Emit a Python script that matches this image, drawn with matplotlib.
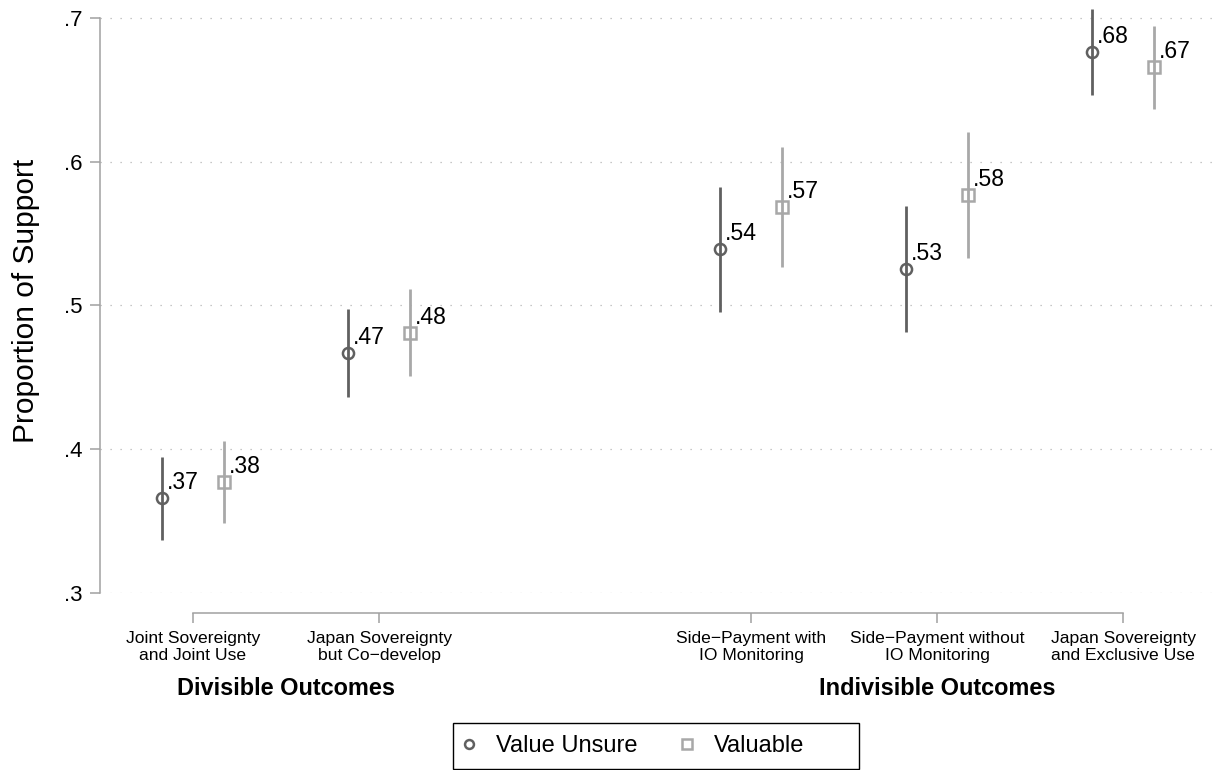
import matplotlib
matplotlib.use("Agg")
import matplotlib.pyplot as plt
from matplotlib.transforms import blended_transform_factory
from matplotlib.patches import Rectangle

plt.rcParams["font.family"] = ["Liberation Sans", "DejaVu Sans"]

# Outcome categories and where they sit on the x scale (gap between groups)
categories = [
    "Joint Sovereignty\nand Joint Use",
    "Japan Sovereignty\nbut Co\u2212develop",
    "Side\u2212Payment with\nIO Monitoring",
    "Side\u2212Payment without\nIO Monitoring",
    "Japan Sovereignty\nand Exclusive Use",
]
cat_pos = [1, 2, 4, 5, 6]

groups = ["Divisible Outcomes", "Indivisible Outcomes"]
group_pos = [1.5, 5]

# Proportion of support with 95% confidence bounds
unsure_mean = [0.3657, 0.4671, 0.5393, 0.5254, 0.6763]
unsure_lo = [0.3367, 0.4365, 0.4953, 0.4818, 0.6466]
unsure_hi = [0.3947, 0.4976, 0.5823, 0.5695, 0.7063]

valuable_mean = [0.3773, 0.4811, 0.5688, 0.5767, 0.6659]
valuable_lo = [0.3487, 0.4509, 0.5270, 0.5333, 0.6368]
valuable_hi = [0.4058, 0.5113, 0.6102, 0.6206, 0.6946]

yticks = [0.3, 0.4, 0.5, 0.6, 0.7]
ytick_labels = [".3", ".4", ".5", ".6", ".7"]

DARK = "#606060"
LIGHT = "#a8a8a8"
AXIS = "#a0a0a0"

W, H = 1217, 770
fig = plt.figure(figsize=(W / 100, H / 100), dpi=100)
ax = fig.add_axes([100 / W, (H - 592.7) / H, (W - 100) / W, 592.7 / H])

series = [
    ("Value Unsure", unsure_mean, unsure_lo, unsure_hi, -0.165, "o", DARK, 8.0),
    ("Valuable", valuable_mean, valuable_lo, valuable_hi, 0.165, "s", LIGHT, 8.2),
]

handles = []
for name, mean, lo, hi, off, mk, col, ms in series:
    xs = [p + off for p in cat_pos]
    ax.vlines(xs, lo, hi, color=col, lw=2.0, zorder=2)
    (h,) = ax.plot(xs, mean, ls="none", marker=mk, ms=ms, mfc="none",
                   mec=col, mew=1.8, zorder=3, label=name)
    handles.append(h)
    for x, m in zip(xs, mean):
        ax.annotate(f"{m:.2f}"[1:], (x, m), xytext=(3.6, 6.5),
                    textcoords="offset points", fontsize=16.6,
                    ha="left", va="baseline", color="black")

ax.set_xlim(0.5, 6.505)
ax.set_ylim(0.3, 0.7127)

for s in ("top", "right"):
    ax.spines[s].set_visible(False)
ax.spines["left"].set_bounds(0.3, 0.7)
ax.spines["bottom"].set_position(("outward", 14.4))
ax.spines["bottom"].set_bounds(1, 6)
for s in ("left", "bottom"):
    ax.spines[s].set_color(AXIS)
    ax.spines[s].set_linewidth(1.1)

ax.set_yticks(yticks, ytick_labels, fontsize=16)
ax.set_xticks(cat_pos, categories, fontsize=12.6, linespacing=1.15)
ax.tick_params(axis="both", length=7.2, width=1.1, color=AXIS)
ax.tick_params(axis="y", pad=5.5)
ax.tick_params(axis="x", pad=6)

ax.grid(axis="y", linestyle=(0, (1, 7)), lw=0.9, color="#b5b5b5")
ax.set_axisbelow(True)

ax.set_ylabel("Proportion of Support", fontsize=21.5)
ax.yaxis.set_label_coords(-0.0537, 0.4922)

trans = blended_transform_factory(ax.transData, fig.transFigure)
for g, gp in zip(groups, group_pos):
    ax.text(gp, (H - 695) / H, g, transform=trans, ha="center",
            va="baseline", fontsize=16.9, fontweight="bold")

fig.legend(handles, [h.get_label() for h in handles], loc="center left",
           bbox_to_anchor=(457.5 / W, (H - 746) / H), ncol=2, frameon=False,
           fontsize=17, handlelength=1.0, handletextpad=0.62,
           columnspacing=1.62, borderpad=0, borderaxespad=0, markerscale=0.8)
fig.add_artist(Rectangle((453 / W, (H - 769) / H), (859 - 453) / W,
                         (769 - 723) / H, transform=fig.transFigure,
                         fill=False, edgecolor="black", lw=1.0))

fig.savefig("out.png", dpi=100)
